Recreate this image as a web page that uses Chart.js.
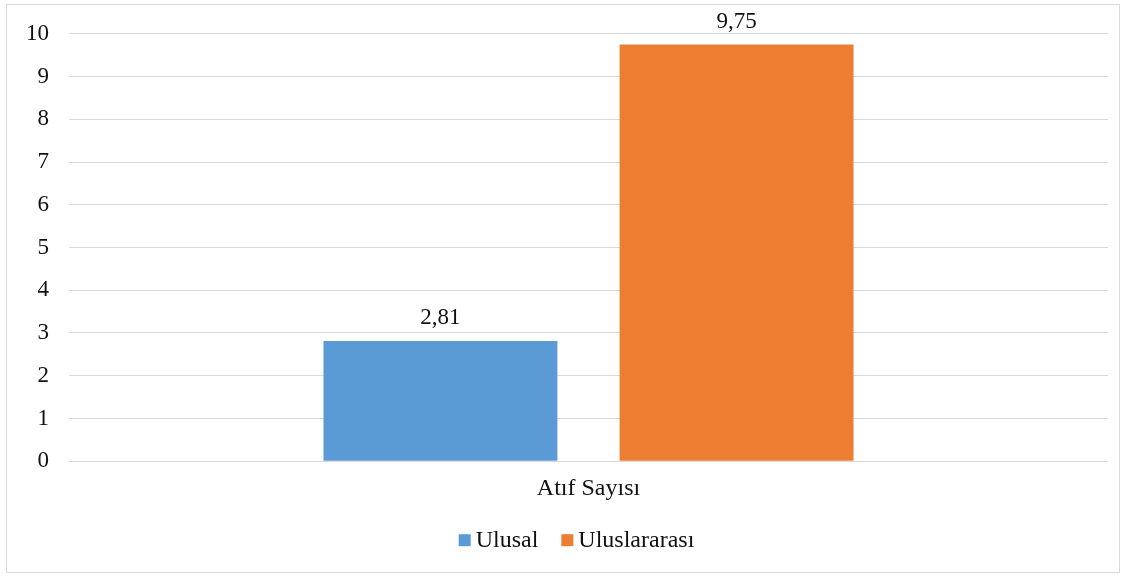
<!DOCTYPE html>
<html>
<head>
<meta charset="utf-8">
<script src="https://cdn.jsdelivr.net/npm/chart.js@4"></script>
<style>
  html, body { margin: 0; padding: 0; background: #fff; }
  #wrap { position: absolute; left: 6px; top: 4px; width: 1112px; height: 567px; border: 1px solid #d9d9d9; }
  #c { position: absolute; left: 0; top: 0; }
</style>
</head>
<body>
<div id="wrap"></div>
<canvas id="c" width="1128" height="577"></canvas>
<script>
const categories = ["Atıf Sayısı"];
const seriesNames = ["Ulusal", "Uluslararası"];
const ulusal = [2.81];
const uluslararasi = [9.75];
const yTicks = [0,1,2,3,4,5,6,7,8,9,10];

const FONT = "'Liberation Serif', 'Times New Roman', serif";
const TXT = '#111111';

const valueLabels = {
  id: 'valueLabels',
  afterDatasetsDraw(chart) {
    const ctx = chart.ctx;
    ctx.save();
    ctx.font = "23px " + FONT;
    ctx.fillStyle = TXT;
    ctx.textAlign = 'center';
    ctx.textBaseline = 'middle';
    chart.data.datasets.forEach((ds, i) => {
      chart.getDatasetMeta(i).data.forEach((bar, j) => {
        const txt = ds.data[j].toFixed(2).replace('.', ',');
        ctx.fillText(txt, bar.x, bar.y - 23);
      });
    });
    ctx.restore();
  }
};

// Legend drawn from the chart's datasets, placed below the x axis
const bottomLegend = {
  id: 'bottomLegend',
  afterDraw(chart) {
    const ctx = chart.ctx;
    ctx.save();
    ctx.font = "24px " + FONT;
    ctx.textBaseline = 'middle';
    ctx.textAlign = 'left';
    const box = 12, gapText = 5, gapItem = 23;
    const items = chart.data.datasets.map(ds => ({ label: ds.label, color: ds.backgroundColor, w: ctx.measureText(ds.label).width }));
    let total = 0;
    items.forEach((it, k) => { total += box + gapText + it.w + (k < items.length - 1 ? gapItem : 0); });
    const cx = (chart.chartArea.left + chart.chartArea.right) / 2 - 12;
    let x = cx - total / 2;
    const y = chart.chartArea.bottom + 79;
    items.forEach(it => {
      ctx.fillStyle = it.color;
      ctx.fillRect(x, y - 6, box, box);
      x += box + gapText;
      ctx.fillStyle = TXT;
      ctx.fillText(it.label, x, y + 1);
      x += it.w + gapItem;
    });
    ctx.restore();
  }
};

new Chart(document.getElementById('c'), {
  type: 'bar',
  data: {
    labels: categories,
    datasets: [
      { label: seriesNames[0], data: ulusal, backgroundColor: '#5B9BD5', categoryPercentage: 0.57, barPercentage: 0.79 },
      { label: seriesNames[1], data: uluslararasi, backgroundColor: '#ED7D31', categoryPercentage: 0.57, barPercentage: 0.79 }
    ]
  },
  options: {
    responsive: false,
    animation: false,
    layout: { padding: { left: 0, right: 20, top: 33, bottom: 61 } },
    plugins: {
      legend: { display: false },
      tooltip: { enabled: false }
    },
    scales: {
      x: {
        grid: { display: false, drawTicks: false },
        border: { display: false },
        ticks: { font: { family: FONT, size: 24 }, color: TXT, padding: 13 }
      },
      y: {
        min: 0, max: 10,
        afterBuildTicks(s) { s.ticks = yTicks.map(v => ({ value: v })); },
        afterFit(s) { s.width = 69; },
        grid: { color: '#d9d9d9', lineWidth: 1, drawTicks: false },
        border: { display: false },
        ticks: { font: { family: FONT, size: 23 }, color: TXT, padding: 20 }
      }
    }
  },
  plugins: [valueLabels, bottomLegend]
});
</script>
</body>
</html>
